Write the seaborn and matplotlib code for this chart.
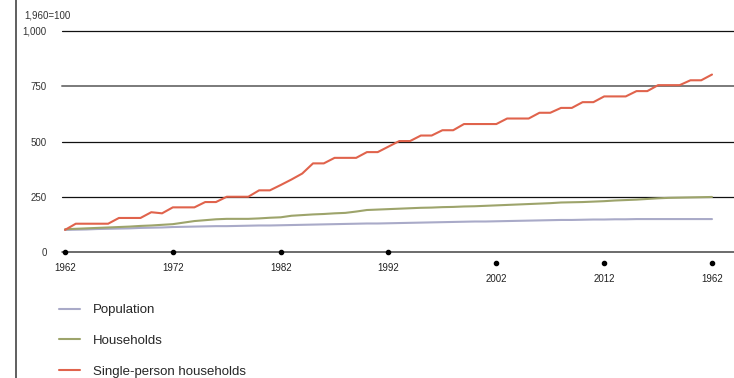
import matplotlib
matplotlib.use("Agg")
import matplotlib.pyplot as plt
import matplotlib.transforms as mtransforms
from matplotlib.lines import Line2D
import numpy as np
import pandas as pd
import seaborn as sns

# index, 1960 = 100
years = list(range(1962, 2023))

population = [100, 101, 102, 104, 105, 106, 107, 109, 110, 111,
              113, 114, 115, 116, 117, 117, 118, 119, 120, 120,
              121, 122, 123, 124, 125, 126, 127, 128, 129, 129,
              130, 131, 132, 133, 134, 135, 136, 137, 138, 138,
              139, 140, 141, 142, 143, 144, 145, 145, 146, 147,
              147, 148, 148, 149, 149, 149, 149, 149, 149, 149, 149]

households = [103, 105, 107, 109, 111, 113, 115, 118, 120, 123,
              126, 133, 140, 144, 148, 150, 150, 150, 152, 155,
              157, 164, 167, 170, 172, 175, 177, 183, 190, 192,
              194, 196, 198, 200, 201, 203, 204, 206, 207, 209,
              211, 213, 215, 217, 219, 221, 224, 225, 226, 228,
              230, 233, 235, 237, 240, 243, 245, 246, 247, 248, 249]

single = [100, 128, 128, 128, 128, 154, 154, 154, 180, 175,
          202, 202, 202, 226, 226, 250, 250, 250, 279, 279,
          303, 328, 355, 401, 401, 426, 426, 426, 452, 452,
          477, 502, 502, 527, 527, 551, 551, 579, 579, 579,
          579, 604, 604, 604, 630, 630, 652, 652, 678, 678,
          704, 704, 704, 728, 728, 755, 755, 755, 777, 777, 803]

series_names = ["Population", "Households", "Single-person households"]
colors = ["#a9aac8", "#9da46b", "#e0634c"]

y_ticks = [0, 250, 500, 750, 1000]
y_labels = ["0", "250", "500", "750", "1,000"]
x_ticks = [1962, 1972, 1982, 1992, 2002, 2012, 2022]
x_labels = ["1962", "1972", "1982", "1992", "2002", "2012", "1962"]

df = pd.DataFrame({"year": years * 3,
                   "value": population + households + single,
                   "series": [s for s in series_names for _ in years]})

sns.set_style("white")
plt.rcParams["font.family"] = ["Liberation Sans", "DejaVu Sans"]

fig = plt.figure(figsize=(7.34, 3.78), dpi=100)
ax = fig.add_axes([62 / 734, 1 - 252 / 378, 1 - 62 / 734, (252 - 31) / 378])

sns.lineplot(data=df, x="year", y="value", hue="series", hue_order=series_names,
             palette=dict(zip(series_names, colors)), linewidth=1.5, ax=ax, zorder=3)

ax.set_xlim(1962 - 3 / 10.783, 2022 + 22 / 10.783)
ax.set_ylim(0, 1000)
for s in ax.spines.values():
    s.set_visible(False)

# horizontal grid
ax.set_yticks(y_ticks)
ax.set_yticklabels(y_labels, fontsize=7, color="#333333")
ax.tick_params(axis="y", length=0, pad=11)
ax.set_xticks([])
ax.set_xlabel("")
ax.set_ylabel("")
for val in y_ticks:
    if val == 750:
        ax.axhline(val, color="#7a7a7a", lw=1.4, zorder=1, clip_on=False)
    elif val == 0:
        ax.axhline(val, color="#444444", lw=1.1, zorder=1, clip_on=False)
    else:
        ax.axhline(val, color="#111111", lw=0.9, zorder=1, clip_on=False)

# x labels with dots, later ones drop lower
trans = mtransforms.blended_transform_factory(ax.transData, ax.transAxes)
for yr, lab in zip(x_ticks, x_labels):
    drop = 0 if yr <= 1992 else 11
    ax.plot([yr], [0], transform=trans + mtransforms.ScaledTranslation(0, -drop / 100, fig.dpi_scale_trans),
            marker="o", ms=3, color="black", clip_on=False, zorder=4)
    ax.text(yr, 0, lab, transform=trans + mtransforms.ScaledTranslation(0, -(drop + 16) / 100, fig.dpi_scale_trans),
            ha="center", va="center", fontsize=7, color="#222222")

fig.text(24 / 734, 1 - 15 / 378, "1,960=100", fontsize=7, color="#333333", va="center", ha="left")

# left rule
fig.add_artist(Line2D([15.5 / 734, 15.5 / 734], [0, 1], color="#444444", lw=1.2))

handles = [Line2D([], [], color=c, lw=1.5) for c in colors]
ax.legend(handles, series_names, loc="upper left", bbox_to_anchor=(59 / 734, 1 - 304 / 378),
          bbox_transform=fig.transFigure, frameon=False, fontsize=9.5, borderpad=0,
          borderaxespad=0, handlelength=1.6, handletextpad=1.0, labelspacing=1.4)

fig.savefig("out.png", dpi=100)
